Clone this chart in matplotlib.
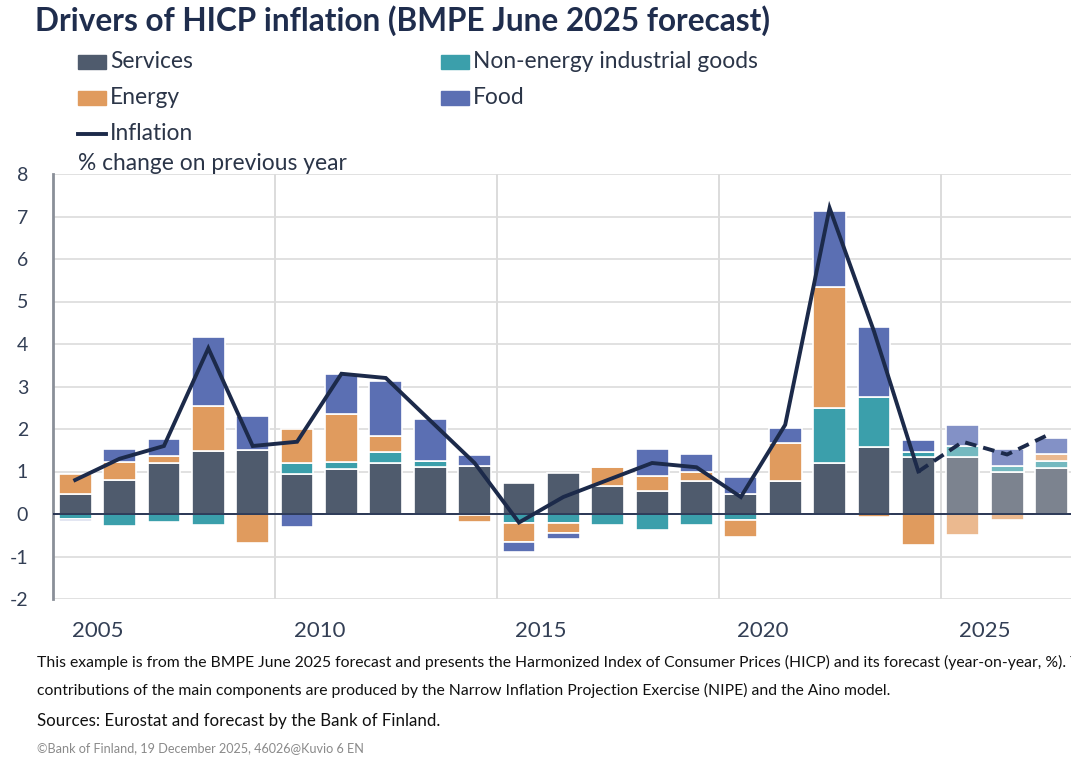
import numpy as np
import matplotlib
matplotlib.use("Agg")
import matplotlib.pyplot as plt
from matplotlib.patches import Rectangle
from matplotlib.lines import Line2D

plt.rcParams["font.family"] = ["Lato", "DejaVu Sans"]
plt.rcParams["axes.unicode_minus"] = False

years = list(range(2005, 2028))
first_forecast = 2025

services = [0.47, 0.80, 1.21, 1.49, 1.51, 0.93, 1.07, 1.19, 1.11, 1.13, 0.74, 0.96,
            0.66, 0.55, 0.78, 0.47, 0.78, 1.19, 1.58, 1.35, 1.33, 1.00, 1.08]
neig = [-0.12, -0.28, -0.18, -0.27, 0.00, 0.26, 0.15, 0.26, 0.13, -0.03, -0.20, -0.20,
        -0.26, -0.38, -0.27, -0.14, 0.00, 1.30, 1.18, 0.10, 0.27, 0.12, 0.17]
energy = [0.47, 0.43, 0.16, 1.04, -0.69, 0.80, 1.13, 0.38, 0.00, -0.15, -0.47, -0.25,
          0.44, 0.34, 0.22, -0.39, 0.88, 2.84, -0.08, -0.74, -0.49, -0.14, 0.16]
food = [-0.04, 0.31, 0.39, 1.64, 0.80, -0.31, 0.95, 1.30, 1.00, 0.25, -0.22, -0.14,
        0.00, 0.64, 0.41, 0.40, 0.37, 1.81, 1.65, 0.28, 0.50, 0.40, 0.38]
inflation = [0.8, 1.3, 1.6, 3.9, 1.6, 1.7, 3.3, 3.2, 2.2, 1.2, -0.2, 0.4,
             0.8, 1.2, 1.1, 0.4, 2.1, 7.2, 4.3, 1.0, 1.7, 1.4, 1.9]

tick_years = [2005, 2010, 2015, 2020, 2025]

series = [
    ("Services", services, "#4f5b6d", "#7c838f"),
    ("Non-energy industrial goods", neig, "#3b9fab", "#74b9c0"),
    ("Energy", energy, "#e09b5e", "#ebb98f"),
    ("Food", food, "#5b6fb3", "#8391c6"),
]
navy = "#1c2a4a"

W, H = 1071, 758
fig = plt.figure(figsize=(W / 100, H / 100), dpi=100)
ax = fig.add_axes([53 / W, 1 - 599 / H, 1 - 53 / W, (599 - 174) / H])

x = np.array(years)
is_fc = x >= first_forecast
pos_base = np.zeros(len(years))
neg_base = np.zeros(len(years))
for name, vals, col, col_fc in series:
    v = np.array(vals)
    bottom = np.where(v >= 0, pos_base, neg_base)
    colors = [col_fc if f else col for f in is_fc]
    ax.bar(x, v, bottom=bottom, width=0.74, color=colors,
           edgecolor="white", linewidth=1.2, zorder=2)
    pos_base += np.where(v > 0, v, 0)
    neg_base += np.where(v < 0, v, 0)

infl = np.array(inflation)
hist = x <= first_forecast - 1
fc = x >= first_forecast - 1
ax.plot(x[hist], infl[hist], color=navy, lw=2.8, zorder=4, solid_joinstyle="miter")
ax.plot(x[fc], infl[fc], color=navy, lw=2.8, ls=(0, (3, 1.8)), zorder=4)

ax.axhline(0, color=navy, lw=1.3, zorder=3)
ax.set_ylim(-2, 8)
ax.set_xlim(2004.5, 2027.44)
ax.set_yticks(range(-2, 9))
ax.grid(axis="y", color="#dcdcdc", lw=1.2, zorder=0)
for t in tick_years[1:]:
    ax.axvline(t - 0.5, color="#d6d6d6", lw=1.2, zorder=0)

ax.set_xticks([t + 0.5 for t in tick_years])
ax.set_xticklabels([str(t) for t in tick_years])
ax.tick_params(axis="x", length=0, pad=16, labelsize=16, labelcolor="#333f55")
ax.tick_params(axis="y", length=0, pad=18, labelsize=14, labelcolor="#333f55")
for s in ["top", "right", "bottom"]:
    ax.spines[s].set_visible(False)
ax.spines["left"].set_color("#8a8f98")
ax.spines["left"].set_linewidth(2)

# title and legend
fig.text(35 / W, 1 - 21 / H, "Drivers of HICP inflation (BMPE June 2025 forecast)",
         fontsize=22.7, fontweight="bold", color="#1f2d4d", va="center")

legend_items = [
    (78, 62, "Services", series[0][2], "patch"),
    (78, 98, "Energy", series[2][2], "patch"),
    (78, 134, "Inflation", navy, "line"),
    (441, 62, "Non-energy industrial goods", series[1][2], "patch"),
    (441, 98, "Food", series[3][2], "patch"),
]
for px, py, label, col, kind in legend_items:
    if kind == "patch":
        fig.add_artist(Rectangle((px / W, 1 - (py + 7) / H), 28 / W, 14 / H,
                                 transform=fig.transFigure, color=col))
    else:
        fig.add_artist(Line2D([px / W, (px + 28) / W], [1 - py / H, 1 - py / H],
                              transform=fig.transFigure, color=col, lw=2.8))
    fig.text((px + 32) / W, 1 - py / H, label, fontsize=16.4, color="#2b3548", va="center")

fig.text(78 / W, 1 - 163 / H, "% change on previous year", fontsize=16.4,
         color="#2b3548", va="center")

# footnotes
fig.text(37 / W, 1 - 662 / H,
         "This example is from the BMPE June 2025 forecast and presents the Harmonized Index "
         "of Consumer Prices (HICP) and its forecast (year-on-year, %). The",
         fontsize=11.3, color="#111111", va="center")
fig.text(37 / W, 1 - 690 / H,
         "contributions of the main components are produced by the Narrow Inflation "
         "Projection Exercise (NIPE) and the Aino model.",
         fontsize=11.3, color="#111111", va="center")
fig.text(37 / W, 1 - 721 / H, "Sources: Eurostat and forecast by the Bank of Finland.",
         fontsize=12.2, color="#111111", va="center")
fig.text(37 / W, 1 - 748 / H, "\u00a9Bank of Finland, 19 December 2025, 46026@Kuvio 6 EN",
         fontsize=9.1, color="#8a8a8a", va="center")

fig.savefig("out.png", dpi=100)
